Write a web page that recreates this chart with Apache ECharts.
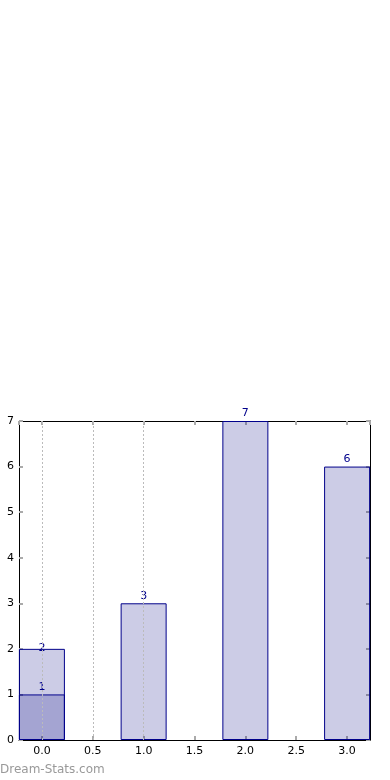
<!DOCTYPE html>
<html>
<head>
<meta charset="utf-8">
<script src="https://cdn.jsdelivr.net/npm/echarts@6/dist/echarts.min.js"></script>
<style>html,body{margin:0;padding:0;background:#fff}#c{width:390px;height:780px}</style>
</head>
<body>
<div id="c"></div>
<script>
// Data
var positions = [0, 1, 2, 3];
var totalValues = [2, 3, 7, 6];
var subPositions = [0];
var subValues = [1];
var gridLinePositions = [0, 0.5, 1.0];
var xMin = -0.225, xMax = 3.225;
var yMin = 0, yMax = 7;

var chart = echarts.init(document.getElementById('c'), null, {renderer: 'canvas'});
var font = 'DejaVu Sans';
var fill = 'rgba(0,0,128,0.2)';
var edge = '#00008B';

function pairs(xs, ys) { return xs.map(function (x, i) { return [x, ys[i]]; }); }

var mainData = pairs(positions, totalValues).map(function (d, i) {
  var o = {value: d};
  if (i === 0) o.label = {offset: [0, 7]};
  return o;
});

var tickStyle = {show: true, inside: true, length: 4, lineStyle: {color: '#aaa', width: 2}};

var option = {
  animation: false,
  grid: {left: 19, top: 421, width: 351, height: 319, containLabel: false},
  xAxis: [{
    type: 'value', min: xMin, max: xMax, splitNumber: 5,
    axisLine: {show: true, onZero: false, lineStyle: {color: '#000', width: 1}},
    axisTick: tickStyle,
    axisLabel: {color: '#000', fontFamily: font, fontSize: 11, margin: 6,
      showMinLabel: false, showMaxLabel: false,
      formatter: function (v) { return v.toFixed(1); }},
    splitLine: {show: false}
  }, {
    type: 'value', min: xMin, max: xMax, splitNumber: 5, position: 'top',
    axisLine: {show: true, onZero: false, lineStyle: {color: '#000', width: 1}},
    axisTick: tickStyle, axisLabel: {show: false}, splitLine: {show: false}
  }],
  yAxis: [{
    type: 'value', min: yMin, max: yMax, interval: 1,
    axisLine: {show: true, onZero: false, lineStyle: {color: '#000', width: 1}},
    axisTick: tickStyle,
    axisLabel: {color: '#000', fontFamily: font, fontSize: 11, margin: 5},
    splitLine: {show: false}
  }, {
    type: 'value', min: yMin, max: yMax, interval: 1, position: 'right',
    axisLine: {show: true, onZero: false, lineStyle: {color: '#000', width: 1}},
    axisTick: tickStyle, axisLabel: {show: false}, splitLine: {show: false}
  }],
  series: [{
    type: 'line', data: [], z: 0, silent: true,
    markLine: {
      silent: true, symbol: 'none', label: {show: false},
      lineStyle: {color: '#bbb', type: [2, 2], width: 1},
      data: gridLinePositions.map(function (x) { return {xAxis: x}; })
    }
  }, {
    type: 'bar', data: mainData, barWidth: 46, barGap: '-100%', z: 2,
    itemStyle: {color: fill, borderColor: edge, borderWidth: 1},
    label: {show: true, position: 'top', distance: 2, color: edge, fontFamily: font, fontSize: 11}
  }, {
    type: 'bar', data: pairs(subPositions, subValues), barWidth: 46, barGap: '-100%', z: 3,
    itemStyle: {color: fill, borderColor: edge, borderWidth: 1},
    label: {show: true, position: 'top', distance: 2, color: edge, fontFamily: font, fontSize: 11}
  }],
  graphic: [{
    type: 'text', left: 0, top: 764,
    style: {text: 'Dream-Stats.com', fill: '#999', font: '12px "DejaVu Sans"'}
  }]
};
chart.setOption(option);
</script>
</body>
</html>
